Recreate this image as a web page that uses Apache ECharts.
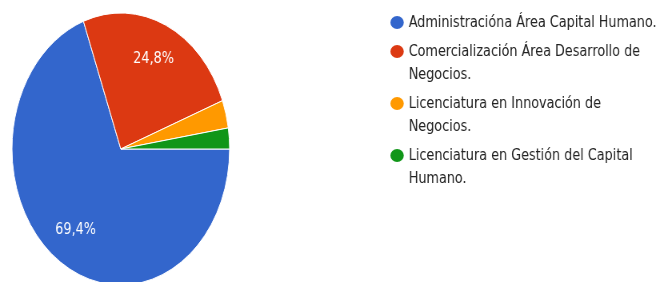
<!DOCTYPE html>
<html>
<head>
<meta charset="utf-8">
<script src="https://cdn.jsdelivr.net/npm/echarts@6/dist/echarts.min.js"></script>
<style>
html, body { margin: 0; padding: 0; background: #fff; overflow: hidden; }
#wrap { width: 668px; height: 282px; overflow: hidden; }
/* the source image is squeezed horizontally, so draw wide and squeeze */
#chart { width: 835px; height: 282px; transform: scaleX(0.8); transform-origin: 0 0; }
</style>
</head>
<body>
<div id="wrap"><div id="chart"></div></div>
<script>
var categories = [
    'Administracióna Área Capital Humano.',
    'Comercialización Área Desarrollo de Negocios.',
    'Licenciatura en Innovación de Negocios.',
    'Licenciatura en Gestión del Capital Humano.'
];
var legendText = [
    'Administracióna Área Capital Humano.',
    'Comercialización Área Desarrollo de\nNegocios.',
    'Licenciatura en Innovación de\nNegocios.',
    'Licenciatura en Gestión del Capital\nHumano.'
];
var counts = [84, 30, 4, 3];
var colors = ['#3366cc', '#dc3912', '#ff9900', '#109618'];

var cx = 151, cy = 149, radius = 136;

var chart = echarts.init(document.getElementById('chart'));
chart.setOption({
    animation: false,
    color: colors,
    legend: {
        orient: 'vertical',
        left: 481,
        top: 6,
        itemGap: -17,
        itemWidth: 19,
        itemHeight: 15,
        icon: 'path://M0,50A62.5,50 0 1 1 125,50A62.5,50 0 1 1 0,50Z',
        textStyle: {
            fontFamily: 'DejaVu Sans',
            fontSize: 16,
            lineHeight: 23,
            color: '#222'
        },
        // keep the dot on the first line of wrapped names
        formatter: function(name){
            var t = legendText[categories.indexOf(name)];
            return t.indexOf('\n') > -1 ? '\n' + t : t;
        },
        data: categories
    },
    series: [{
        type: 'pie',
        center: [cx, cy],
        radius: radius,
        startAngle: 0,
        clockwise: true,
        itemStyle: { borderColor: '#fff', borderWidth: 1 },
        label: {
            position: 'inside',
            color: '#fff',
            fontFamily: 'DejaVu Sans',
            fontSize: 16,
            formatter: function(p){
                return p.percent > 5 ? p.percent.toFixed(1).replace('.', ',') + '%' : '';
            }
        },
        labelLayout: function(p){
            var k = 1.39;
            var lx = p.labelRect.x + p.labelRect.width / 2;
            var ly = p.labelRect.y + p.labelRect.height / 2;
            return { x: cx + (lx - cx) * k, y: cy + (ly - cy) * k };
        },
        labelLine: { show: false },
        data: categories.map(function(c, i){ return { name: c, value: counts[i] }; })
    }]
});
</script>
</body>
</html>
